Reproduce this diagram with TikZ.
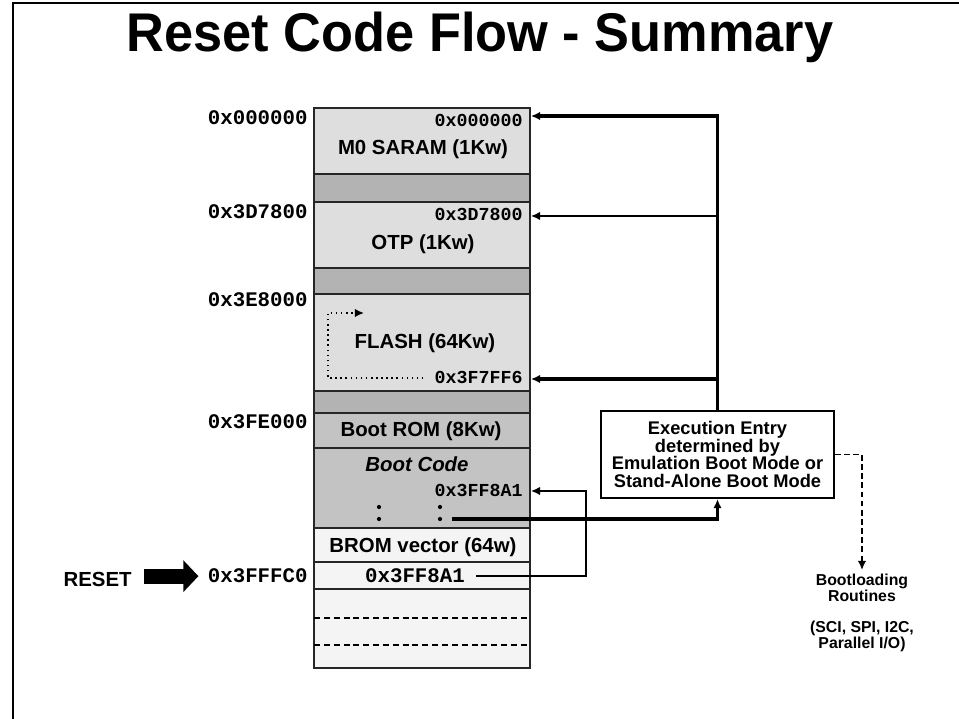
\documentclass[tikz,border=0pt]{standalone}
\usepackage{fontspec}
\setmainfont{Liberation Sans}
\setmonofont{Liberation Mono}
\usetikzlibrary{arrows.meta}

\definecolor{ramgray}{HTML}{DEDEDE}
\definecolor{gapgray}{HTML}{B3B3B3}
\definecolor{romgray}{HTML}{C3C3C3}
\definecolor{vecgray}{HTML}{F4F4F4}

\begin{document}
\begin{tikzpicture}[
	x=0.01cm, y=-0.01cm,
	region/.style={
		draw=black!85, line width=0.5pt,
		minimum width=2.16cm, inner sep=0pt
	},
	lbl/.style={font=\fontsize{5.8}{7}\selectfont\bfseries, anchor=base},
	addr/.style={font=\fontsize{5.9}{7}\selectfont\ttfamily\bfseries, anchor=base east, inner sep=0.5pt},
	saddr/.style={font=\fontsize{5.2}{6}\selectfont\ttfamily\bfseries, anchor=base east, inner sep=0.5pt},
	thk/.style={line width=0.9pt},
	thn/.style={line width=0.45pt},
	arr/.style={-{Latex[length=2.6pt,width=2.4pt]}}
]
\useasboundingbox (0,0) rectangle (959,719);

% frame and title
\draw[line width=0.75pt] (13,719) -- (13,3) -- (959,3);
\node[font=\fontsize{15.5}{18}\selectfont\bfseries, anchor=base] (title) at (480,52)
	{\scalebox{0.96}[1]{Reset Code Flow - Summary}};

% memory map
\node[region, fill=ramgray, minimum height=0.66cm] (m0)       at (422,141)   {};
\node[region, fill=gapgray, minimum height=0.28cm] (gap1)     at (422,188)   {};
\node[region, fill=ramgray, minimum height=0.66cm] (otp)      at (422,235)   {};
\node[region, fill=gapgray, minimum height=0.26cm] (gap2)     at (422,281)   {};
\node[region, fill=ramgray, minimum height=0.97cm] (flash)    at (422,342.5) {};
\node[region, fill=gapgray, minimum height=0.22cm] (gap3)     at (422,402)   {};
\node[region, fill=romgray, minimum height=0.35cm] (bootrom)  at (422,430.5) {};
\node[region, fill=romgray, minimum height=0.80cm] (bootcode) at (422,488)   {};
\node[region, fill=vecgray, minimum height=0.34cm] (bromvec)  at (422,545)   {};
\node[region, fill=vecgray, minimum height=0.27cm] (vecrow)   at (422,575.5) {};
\node[region, fill=vecgray, minimum height=0.79cm] (spare)    at (422,628.5) {};
\draw[thn, dash pattern=on 1.7pt off 1.1pt] (314,618) -- (530,618);
\draw[thn, dash pattern=on 1.7pt off 1.1pt] (314,645) -- (530,645);

\node[lbl] (m0txt)    at (423,155) {M0 SARAM (1Kw)};
\node[lbl] (otptxt)   at (423,250) {OTP (1Kw)};
\node[lbl] (flashtxt) at (425,349) {FLASH (64Kw)};
\node[lbl] (romtxt)   at (421,437) {Boot ROM (8Kw)};
\node[lbl, font=\fontsize{5.8}{7}\selectfont\bfseries\itshape] (codetxt) at (417,472) {Boot Code};
\node[lbl] (vectxt)   at (423,553) {BROM vector (64w)};

% start addresses
\node[addr] (a0) at (310,125) {0x000000};
\node[addr] (a1) at (310,219) {0x3D7800};
\node[addr] (a2) at (310,307) {0x3E8000};
\node[addr] (a3) at (310,429) {0x3FE000};
\node[addr] (a4) at (310,583) {0x3FFFC0};

\node[saddr] (m0addr)    at (525,127) {0x000000};
\node[saddr] (otpaddr)   at (525,221) {0x3D7800};
\node[saddr] (flashaddr) at (525,384) {0x3F7FF6};
\node[saddr] (bcaddr)    at (525,497) {0x3FF8A1};
\node[addr, anchor=base] (vecaddr) at (415,583) {0x3FF8A1};

\foreach \dx in {379,440}
	\foreach \dy in {507,519}
		\fill (\dx,\dy) circle (0.6pt);

% entry box and bootloaders
\node[draw, line width=0.6pt, fill=white, minimum width=2.33cm, minimum height=0.87cm,
	align=center, inner sep=0pt, font=\fontsize{5.2}{5.1}\selectfont\bfseries] (exec) at (717.5,454.5)
	{Execution Entry\\determined by\\Emulation Boot Mode or\\Stand-Alone Boot Mode};
\node[anchor=north, align=center, inner sep=1pt, font=\fontsize{4.5}{4.6}\selectfont\bfseries] (boot) at (862,570)
	{Bootloading\\Routines\\[4pt](SCI, SPI, I2C,\\Parallel I/O)};

\node[lbl, anchor=base east] (reset) at (144,587) {RESET};

% connectors
\coordinate (jm0)  at (718,116);
\coordinate (jotp) at (718,216);
\coordinate (jfl)  at (718,379);
\coordinate (jbc)  at (452,519);
\coordinate (jvec) at (586,491);
\coordinate (loopc)   at (328,313);
\coordinate (loopend) at (364,313);

\draw[thk, arr] (exec.north) |- (m0.east |- jm0);
\draw[thn, arr] (jotp) -- (otp.east |- jotp);
\draw[thk, arr] (jfl) -- (flash.east |- jfl);
\draw[thk, arr] (jbc) -| (exec.south);
\draw[thn, arr, shorten <=2.5pt] (vecaddr.east) -| (jvec) -- (bootcode.east |- jvec);
\draw[thn, arr, dash pattern=on 1.6pt off 1pt] (exec.east) -| (boot.north);
\draw[thn, arr, densely dotted, shorten <=2.5pt] (flashaddr.west) -| (loopc) -- (loopend);
\draw[line width=0.15cm, -{Triangle[length=4.3pt,width=8.8pt]}, shorten >=2pt]
	(a4.west -| reset.east) -- (a4.west);

\end{tikzpicture}
\end{document}
